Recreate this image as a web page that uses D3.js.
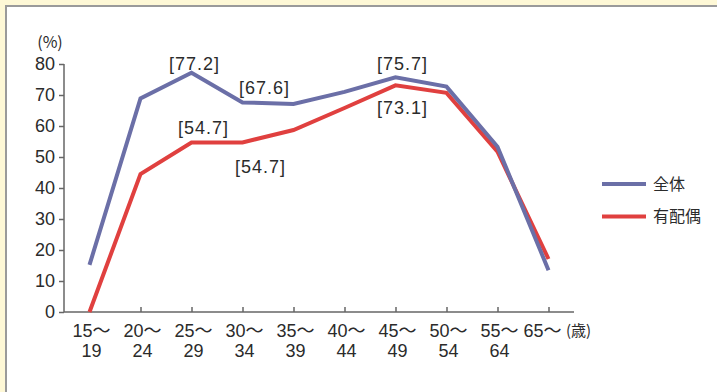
<!DOCTYPE html>
<html>
<head>
<meta charset="utf-8">
<script src="https://cdn.jsdelivr.net/npm/d3@7"></script>
<style>
  html, body { margin: 0; padding: 0; background: #fef8d6; }
  svg { display: block; }
</style>
</head>
<body>
<svg id="chart" width="717" height="392"></svg>
<script>
// Age groups (two-line labels) and participation rates (%)
const categories = ["15～19", "20～24", "25～29", "30～34", "35～39", "40～44", "45～49", "50～54", "55～64", "65～"];
const labelLine1 = ["15～", "20～", "25～", "30～", "35～", "40～", "45～", "50～", "55～", "65～"];
const labelLine2 = ["19", "24", "29", "34", "39", "44", "49", "54", "64", ""];
const seriesNames = ["全体", "有配偶"];
const totalValues = [15.2, 68.9, 77.2, 67.6, 67.1, 71.0, 75.7, 72.7, 53.3, 13.5];
const marriedValues = [0.0, 44.5, 54.7, 54.7, 58.7, 65.8, 73.1, 70.7, 51.7, 17.1];
const yTicks = [0, 10, 20, 30, 40, 50, 60, 70, 80];
// Points whose value is printed in brackets: [series index, category index]
const annotated = [[0, 2], [0, 3], [0, 6], [1, 2], [1, 3], [1, 6]];

const colors = ["#6b6fa7", "#e0403f"];
const textColor = "#2b2b2b";
const axisColor = "#666";
const latin = "'Liberation Sans', Arial, 'Noto Sans CJK JP', sans-serif";
const cjk = "'Noto Sans CJK JP', 'Noto Sans', sans-serif";

const svg = d3.select("#chart");

// White panel with a grey frame over the cream page
svg.append("rect")
  .attr("x", 6).attr("y", 6).attr("width", 740).attr("height", 420)
  .attr("fill", "#fff").attr("stroke", "#9a9a9a").attr("stroke-width", 2);

const x = d3.scalePoint().domain(categories).range([64, 574]).padding(0.5);
const y = d3.scaleLinear().domain([0, 80]).range([312, 64]);

// Y axis
const yAxis = svg.append("g")
  .attr("transform", "translate(64,0)")
  .call(d3.axisLeft(y).tickValues(yTicks).tickSize(5).tickPadding(4));
yAxis.select(".domain").attr("stroke", axisColor).attr("stroke-width", 1.5)
  .attr("d", `M0,${y(80)}V${y(0)}`);
yAxis.selectAll(".tick line").attr("stroke", axisColor).attr("stroke-width", 1.5);
yAxis.selectAll(".tick text")
  .attr("fill", textColor).style("font-family", latin).style("font-size", "18px");

// X axis
const xAxis = svg.append("g")
  .attr("transform", `translate(0,${y(0)})`)
  .call(d3.axisBottom(x).tickSize(-5).tickFormat(""));
xAxis.select(".domain").attr("stroke", axisColor).attr("stroke-width", 1.5)
  .attr("d", "M64,0H574");
xAxis.selectAll(".tick line").attr("stroke", axisColor).attr("stroke-width", 1.5);

// Two-line category labels; the open-ended last group leans left to leave room for the unit
const last = categories.length - 1;
const labelX = (d, i) => x(d) + (i === last ? -6 : 2);
const xl = svg.append("g").selectAll("text")
  .data(categories).join("text")
  .attr("text-anchor", "middle")
  .attr("fill", textColor)
  .style("font-family", latin).style("font-size", "18px");
xl.append("tspan").attr("x", labelX).attr("y", 337).text((d, i) => labelLine1[i]);
xl.append("tspan").attr("x", labelX).attr("y", 357).text((d, i) => labelLine2[i]);

// Unit labels
svg.append("text").attr("x", 50).attr("y", 48).attr("text-anchor", "middle")
  .attr("fill", textColor).style("font-family", cjk).style("font-size", "16px")
  .text("(%)");
svg.append("text").attr("x", 566).attr("y", 336).attr("text-anchor", "start")
  .attr("fill", textColor).style("font-family", cjk).style("font-size", "15px")
  .text("(歳)");

// Lines
const allSeries = [totalValues, marriedValues];
const line = d3.line().x((d, i) => x(categories[i])).y(d => y(d));
// Married series first so the overall series sits on top
[1, 0].forEach(s => {
  svg.append("path")
    .datum(allSeries[s])
    .attr("fill", "none")
    .attr("stroke", colors[s])
    .attr("stroke-width", 4)
    .attr("stroke-linejoin", "miter")
    .attr("d", line);
});

// Bracketed value labels: offset from the point (dx, dy to baseline)
const labelOffset = {
  "0-2": [3, -3], "0-3": [22, -8], "0-6": [7, -7],
  "1-2": [12, -8], "1-3": [18, 31], "1-6": [7, 29]
};
svg.append("g").selectAll("text")
  .data(annotated).join("text")
  .attr("x", ([s, i]) => x(categories[i]) + labelOffset[`${s}-${i}`][0])
  .attr("y", ([s, i]) => y(allSeries[s][i]) + labelOffset[`${s}-${i}`][1])
  .attr("text-anchor", "middle")
  .attr("fill", textColor)
  .style("font-family", latin).style("font-size", "18px")
  .style("letter-spacing", "1px")
  .text(([s, i]) => `[${allSeries[s][i].toFixed(1)}]`);

// Legend
const legend = svg.append("g").selectAll("g")
  .data(seriesNames).join("g")
  .attr("transform", (d, i) => `translate(602,${184 + i * 32.5})`);
legend.append("line")
  .attr("x1", 0).attr("x2", 44).attr("y1", 0).attr("y2", 0)
  .attr("stroke", (d, i) => colors[i]).attr("stroke-width", 4);
legend.append("text")
  .attr("x", 51).attr("y", 0).attr("dy", "0.36em")
  .attr("fill", textColor)
  .style("font-family", cjk).style("font-size", "16px")
  .text(d => d);
</script>
</body>
</html>
